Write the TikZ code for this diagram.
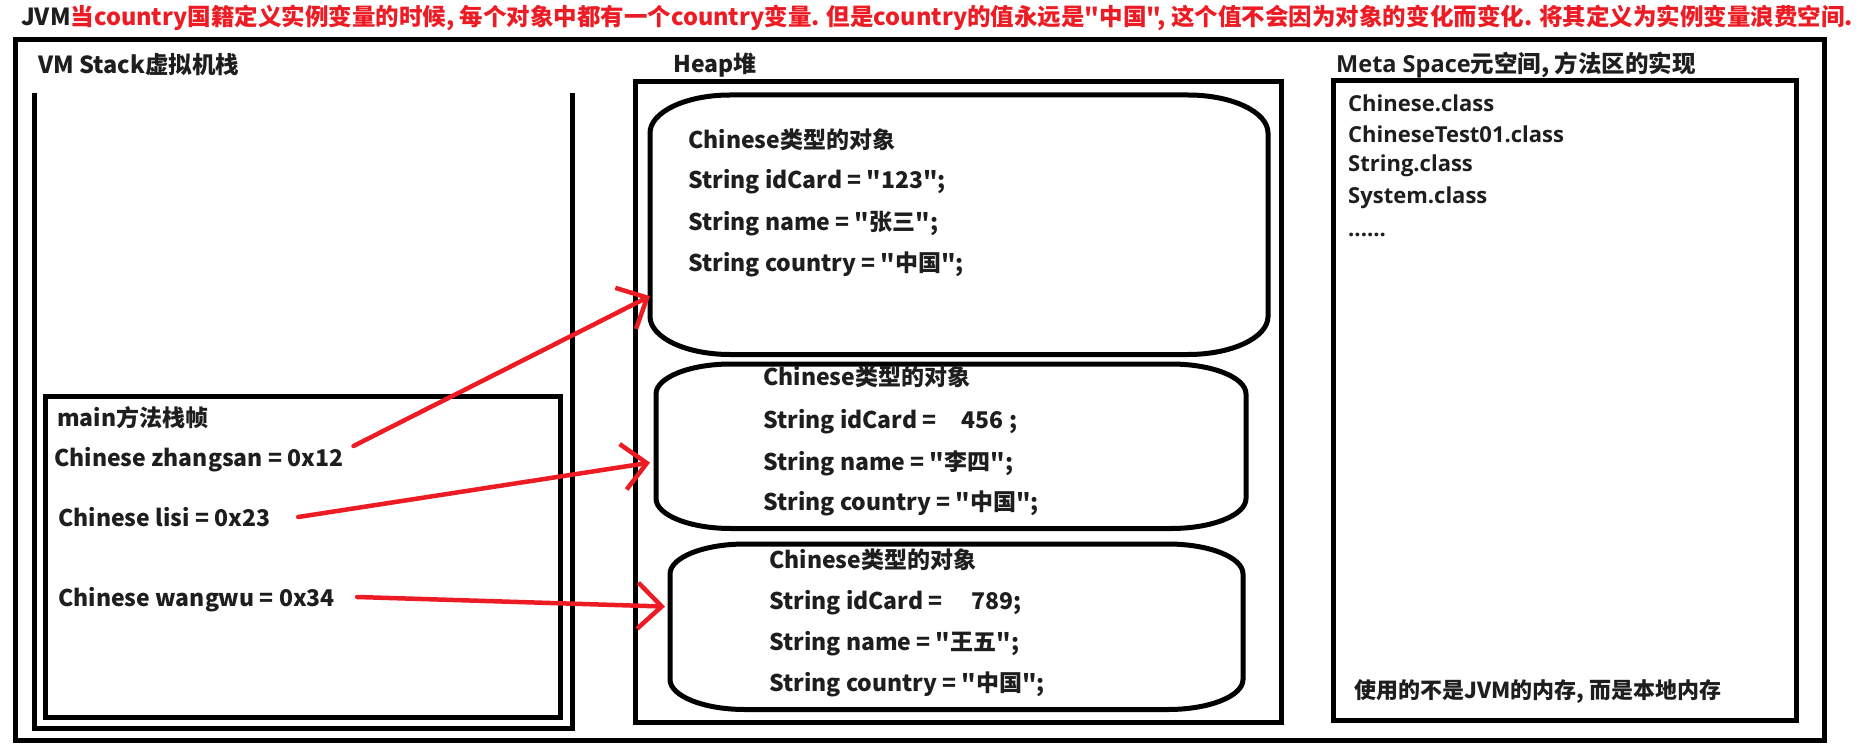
\documentclass[tikz,border=0pt]{standalone}
\usepackage{fontspec}
\setmainfont{Noto Sans CJK SC}[Ligatures=TeXOff]
\newfontfamily\latinf{Open Sans}[Ligatures=TeXOff]
\usetikzlibrary{arrows.meta,calc}
\definecolor{pred}{HTML}{ED1C24}
\definecolor{ink}{HTML}{1E1E1E}
\tikzset{
  boxnode/.style={draw=black, line width=5pt, inner sep=0pt, outer sep=0pt, rectangle},
  ghost/.style={draw=none, inner sep=0pt, outer sep=0pt, rectangle},
  objline/.style={draw=black, line width=5pt},
  txt/.style={anchor=west, inner sep=0pt, text=ink, font=\fontsize{23}{27}\selectfont\bfseries},
  lbl/.style={anchor=west, inner sep=0pt, text=ink, font=\fontsize{23.5}{27}\selectfont\bfseries},
  cls/.style={anchor=west, inner sep=0pt, text=ink, font=\fontsize{22}{26}\selectfont\latinf\bfseries},
  parrow/.style={draw=pred, line width=4.5pt, line cap=round, line join=round,
    -{Straight Barb[length=24pt,width=46pt]}}
}
\newcommand\ovalframe[3]{%
  \draw[objline] let \p1=(#1.north west), \p2=(#1.south east) in
    ({\x1+#2pt},\y1) -- ({\x2-#2pt},\y1)
    .. controls ({\x2-0.448*#2pt},\y1) and (\x2,{\y1-0.448*#3pt}) .. (\x2,{\y1-#3pt})
    -- (\x2,{\y2+#3pt})
    .. controls (\x2,{\y2+0.448*#3pt}) and ({\x2-0.448*#2pt},\y2) .. ({\x2-#2pt},\y2)
    -- ({\x1+#2pt},\y2)
    .. controls ({\x1+0.448*#2pt},\y2) and (\x1,{\y2+0.448*#3pt}) .. (\x1,{\y2+#3pt})
    -- (\x1,{\y1-#3pt})
    .. controls (\x1,{\y1-0.448*#3pt}) and ({\x1+0.448*#2pt},\y1) .. cycle;}
\begin{document}
\begin{tikzpicture}[x=1pt,y=-1pt]
\useasboundingbox[fill=white] (0,0) rectangle (1862,754);

% title
\node[anchor=west, inner sep=0pt, font=\fontsize{24}{28}\selectfont\bfseries] (title) at (21,18)
  {\resizebox{1832pt}{!}{\textcolor{ink}{JVM}\textcolor{pred}{当country国籍定义实例变量的时候, 每个对象中都有一个country变量. 但是country的值永远是"中国", 这个值不会因为对象的变化而变化. 将其定义为实例变量浪费空间.}}};

% frames
\node[boxnode, minimum width=1809.5pt, minimum height=701pt] (outer) at (919.75,390) {};
\node[ghost, minimum width=538pt, minimum height=635.5pt] (stack) at (303,410.75) {};
\draw[line width=5pt] (stack.north west) -- (stack.south west) -- (stack.south east) -- (stack.north east);
\node[boxnode, minimum width=515.5pt, minimum height=320.5pt] (mainf) at (302.75,556.75) {};
\node[boxnode, minimum width=646pt, minimum height=640.5pt] (heap) at (958.5,401.75) {};
\node[boxnode, minimum width=463.5pt, minimum height=639.5pt] (meta) at (1564.75,400.75) {};

% objects
\node[ghost, minimum width=618pt, minimum height=259.5pt] (o1) at (959,224.75) {};
\ovalframe{o1}{80}{38}
\node[ghost, minimum width=590pt, minimum height=164.5pt] (o2) at (951,446.25) {};
\ovalframe{o2}{75}{30}
\node[ghost, minimum width=573pt, minimum height=165.5pt] (o3) at (956.5,626.75) {};
\ovalframe{o3}{75}{30}

% section labels
\node[lbl] (lstack) at (38,65) {VM Stack虚拟机栈};
\node[lbl, font=\fontsize{23}{27}\selectfont\bfseries] (lheap) at (673,65) {Heap堆};
\node[lbl] (lmeta) at (1336,65) {{\latinf\bfseries Meta Space}元空间, 方法区的实现};

% main frame
\node[txt] (mtitle) at (57,418) {main方法栈帧};
\node[txt] (zs) at (54,460) {Chinese zhangsan = 0x12};
\node[txt] (ls) at (58,517) {Chinese lisi = 0x23};
\node[txt] (ww) at (58,600) {Chinese wangwu = 0x34};

% object 1
\node[txt] (o1a) at (688,140) {Chinese类型的对象};
\node[txt] (o1b) at (688,182) {String idCard = "123";};
\node[txt] (o1c) at (688,224) {String name = "张三";};
\node[txt] (o1d) at (688,264) {String country = "中国";};
% object 2
\node[txt] (o2a) at (763,377) {Chinese类型的对象};
\node[txt] (o2b) at (763,422) {String idCard = \hspace{20pt}456 ;};
\node[txt] (o2c) at (763,463) {String name = "李四";};
\node[txt] (o2d) at (763,503) {String country = "中国";};
% object 3
\node[txt] (o3a) at (769,560) {Chinese类型的对象};
\node[txt] (o3b) at (769,603) {String idCard = \hspace{24pt}789;};
\node[txt] (o3c) at (769,644) {String name = "王五";};
\node[txt] (o3d) at (769,684) {String country = "中国";};

% meta space
\node[cls] (c1) at (1348,103) {Chinese.class};
\node[cls] (c2) at (1348,134) {ChineseTest01.class};
\node[cls] (c3) at (1348,166) {String.class};
\node[cls] (c4) at (1348,198) {System.class};
\node[cls, anchor=base west] (c5) at (1348,236) {......};
\node[lbl, font=\fontsize{22}{26}\selectfont\bfseries] (native) at (1354,692) {使用的不是JVM的内存, 而是本地内存};

% arrows
\draw[parrow] ([shift={(10,-14)}]zs.east) -- (o1.193.5);
\draw[parrow, shorten >=6pt] ([shift={(28,0)}]ls.east) -- (o2.183.25);
\draw[parrow, shorten >=5pt] ([shift={(22,-3)}]ww.east) -- (o3.176.45);
\end{tikzpicture}
\end{document}
